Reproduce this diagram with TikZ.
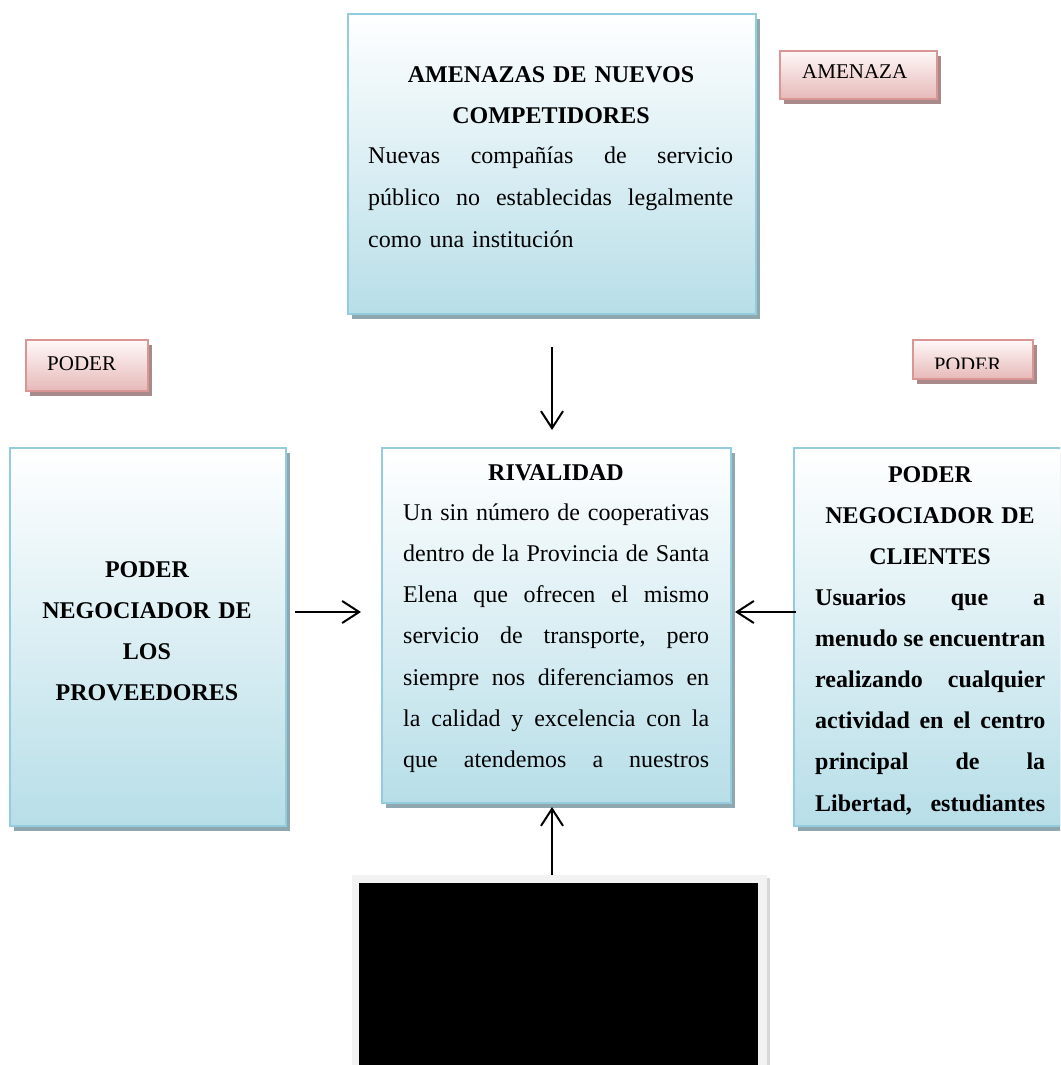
\documentclass[tikz,border=0pt]{standalone}
\usepackage{fontspec}
\setmainfont{Liberation Serif}
\usetikzlibrary{shadows,arrows.meta,calc}
\definecolor{bborder}{HTML}{93CDDD}
\definecolor{bfill}{HTML}{B7DEE8}
\definecolor{bshadow}{HTML}{8FA8AF}
\definecolor{pborder}{HTML}{D99694}
\definecolor{ptop}{HTML}{FFF8F8}
\definecolor{pfill}{HTML}{E6B9B8}
\definecolor{pshadow}{HTML}{A88A8A}
\definecolor{framegray}{HTML}{F2F2F2}
\definecolor{frameshadow}{HTML}{D8D8D8}
\tikzset{
 bluebox/.style={draw=bborder, line width=2pt, top color=white, bottom color=bfill, inner sep=0pt, anchor=north west,
   drop shadow={shadow xshift=4pt, shadow yshift=-5pt, fill=bshadow, opacity=1}},
 pinkbox/.style={draw=pborder, line width=2pt, top color=ptop, bottom color=pfill, inner sep=0pt, anchor=north west,
   drop shadow={shadow xshift=4pt, shadow yshift=-5pt, fill=pshadow, opacity=1}},
 bodytext/.style={inner sep=0pt, anchor=base west, font=\fontsize{24}{41.3}\selectfont},
 boldbody/.style={bodytext, font=\fontsize{24}{41.2}\selectfont\bfseries},
 titletext/.style={inner sep=0pt, anchor=base, align=center, font=\fontsize{24}{41}\selectfont\bfseries},
 lbl/.style={inner sep=0pt, anchor=base west, font=\fontsize{21}{25}\selectfont},
 arr/.style={line width=2pt, -{Straight Barb[length=17pt,width=22pt]}},
}
\newcommand{\jl}[2]{\leavevmode\hbox to #1{#2}}
\def\h{\hfill}
\begin{document}
\begin{tikzpicture}[x=1pt,y=-1pt]
\useasboundingbox (0,0) rectangle (1060,1065);
\clip (0,0) rectangle (1060,1065);

% top box
\node[bluebox, minimum width=408pt, minimum height=300pt] (amen) at (347,13) {};
\node[titletext, text width=400pt] (amenT) at (551,82) {AMENAZAS DE NUEVOS\\COMPETIDORES};
\node[bodytext, text width=365pt, font=\fontsize{24}{42}\selectfont] (amenB) at (368,163)
  {\jl{365pt}{Nuevas\h compañías\h de\h servicio}\\\jl{365pt}{público\h no\h establecidas\h legalmente}\\como una institución};

% pink labels
\node[pinkbox, minimum width=157pt, minimum height=48pt] (amz) at (779,50) {};
\node[lbl] (amzT) at (802,78) {AMENAZA};
\node[pinkbox, minimum width=122pt, minimum height=51pt] (podL) at (25,339) {};
\node[lbl] (podLT) at (47,370) {PODER};
\node[pinkbox, minimum width=120pt, minimum height=39pt] (podR) at (912,339) {};
\begin{scope}
\clip (912,339) rectangle (1032,368);
\node[lbl, font=\fontsize{20.5}{25}\selectfont] (podRT) at (934,371.5) {PODER};
\end{scope}

% left box
\node[bluebox, minimum width=276pt, minimum height=378pt] (prov) at (9,447) {};
\node[titletext, text width=260pt] (provT) at (147,577) {PODER\\NEGOCIADOR DE\\LOS\\PROVEEDORES};

% center box
\node[bluebox, minimum width=349pt, minimum height=355pt] (riv) at (381,447) {};
\node[titletext, text width=300pt] (rivT) at (556,480) {RIVALIDAD};
\node[bodytext, text width=306pt] (rivB) at (403,520)
  {\jl{306pt}{Un\h sin\h número\h de\h cooperativas}\\
   \jl{306pt}{dentro\h de\h la\h Provincia\h de\h Santa}\\
   \jl{306pt}{Elena\h que\h ofrecen\h el\h mismo}\\
   \jl{306pt}{servicio\h de\h transporte,\h pero}\\
   \jl{306pt}{siempre\h nos\h diferenciamos\h en}\\
   \jl{306pt}{la\h calidad\h y\h excelencia\h con\h la}\\
   \jl{306pt}{que\h atendemos\h a\h nuestros}};

% right box
\node[bluebox, minimum width=300pt, minimum height=378pt] (cli) at (793,447) {};
\node[titletext, text width=230pt] (cliT) at (930,482) {PODER\\NEGOCIADOR DE\\CLIENTES};
\node[boldbody, text width=230pt] (cliB) at (815,605)
  {\jl{230pt}{Usuarios\h que\h a}\\
   \jl{230pt}{menudo\h se\h encuentran}\\
   \jl{230pt}{realizando\h cualquier}\\
   \jl{230pt}{actividad\h en\h el\h centro}\\
   \jl{230pt}{principal\h de\h la}\\
   \jl{230pt}{Libertad,\h estudiantes}};

% bottom image frame
\node[fill=framegray, anchor=north west, inner sep=0pt, minimum width=415pt, minimum height=210pt,
  drop shadow={shadow xshift=3pt, shadow yshift=-3pt, fill=frameshadow, opacity=1}] (frame) at (352,875) {};
\node[fill=black, anchor=north west, inner sep=0pt, minimum width=399pt, minimum height=200pt] (img) at (359,883) {};

% arrows
\draw[arr] ($(amen.south)+(0,32)$) -- ($(amen.south |- riv.north)+(0,-17)$);
\draw[arr] ($(prov.east)+(8,-25)$) coordinate (la) -- ($(riv.west |- la)+(-20,0)$);
\draw[arr] ($(cli.west)+(3,-25)$) coordinate (ra) -- ($(riv.east |- ra)+(3,0)$);
\draw[arr] (frame.north -| amen.south) -- ($(riv.south -| amen.south)+(0,3)$);
\end{tikzpicture}
\end{document}
